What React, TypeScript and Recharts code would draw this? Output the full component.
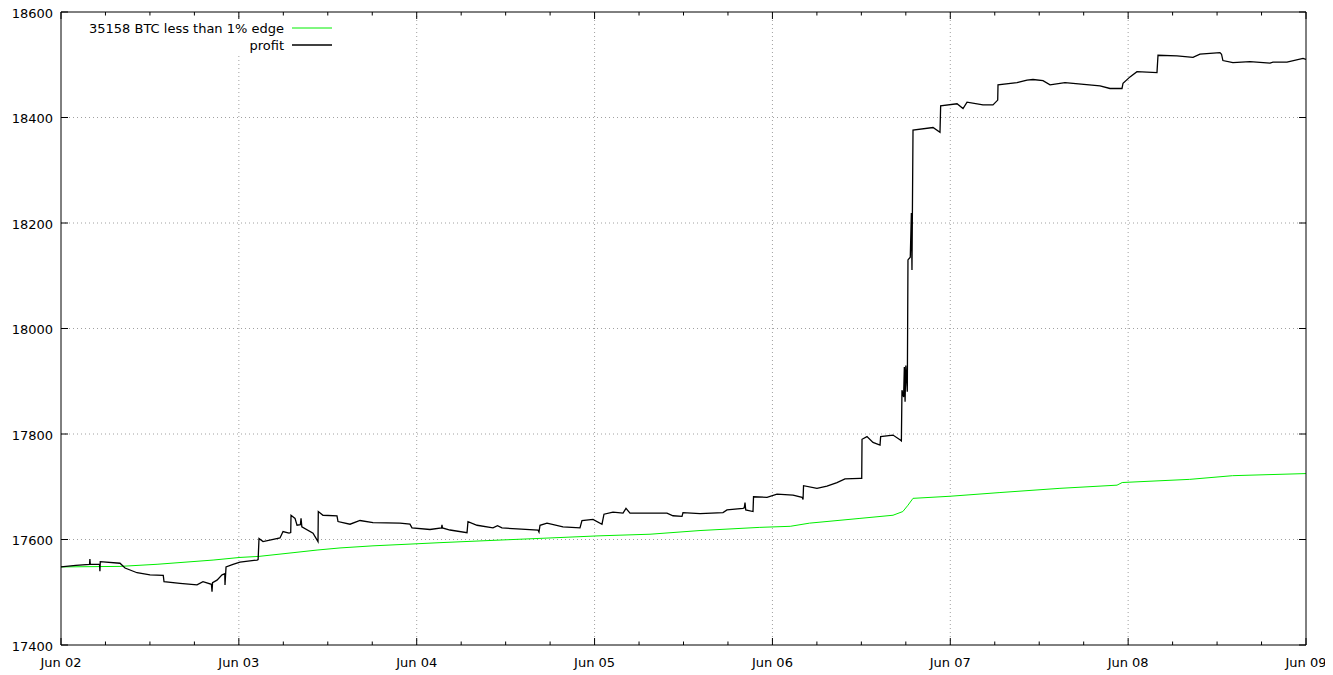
import React from "react";
import { LineChart, Line, XAxis, YAxis, ReferenceLine, Legend } from "recharts";

// hours since Jun 02 00:00
const profitHours = [
  0, 2.0, 3.85, 3.9, 3.95, 5.2, 5.25, 5.3, 7.96, 8.64, 10.26, 12.01, 13.8, 13.9, 16.06, 18.35, 19.16,
  20.3, 20.38, 20.45, 21.05, 21.73, 22.1, 22.13, 22.27, 23.21, 24.15, 26.45, 26.6, 26.72, 27.26, 29.55,
  29.96, 30.77, 31.0, 31.04, 31.58, 31.85, 32.3, 32.39, 32.5, 34.01, 34.68, 34.72, 35.35, 37.24, 37.38,
  39.0, 40.35, 42.1, 45.74, 47.09, 47.36, 49.79, 51.35, 51.41, 51.47, 52.49, 54.79, 54.92, 56.14, 58.29,
  58.9, 59.5, 61.53, 64.37, 64.5, 64.64, 65.58, 67.74, 70.03, 70.3, 71.79, 73.0, 73.27, 74.49, 75.84,
  76.24, 76.78, 79.48, 81.77, 82.58, 83.8, 83.93, 86.23, 89.33, 89.87, 92.03, 92.2, 92.3, 92.4, 93.38,
  93.45, 95.27, 96.62, 98.78, 100.0, 100.13, 100.2, 102.01, 103.36, 104.71, 105.79, 107.81, 108.05,
  108.09, 108.76, 109.57, 110.52, 110.6, 112.27, 113.21, 113.4, 113.48, 113.7, 113.8, 113.9, 114.0,
  114.2, 114.29, 114.6, 114.75, 114.83, 114.97, 117.67, 118.61, 118.7, 120.91, 121.72, 122.26, 124.41,
  125.76, 126.4, 126.44, 129.0, 130.35, 131.16, 132.51, 133.46, 135.48, 140.2, 141.55, 143.17, 143.31,
  144.25, 145.19, 147.89, 148.03, 150.59, 152.75, 153.69, 156.39, 156.6, 156.79, 158.14, 160.44, 163.14,
  163.54, 165.43, 167.6, 168,
];
const profitValues = [
  17548, 17551, 17553, 17563, 17553, 17553, 17540, 17558, 17555, 17546, 17537, 17533, 17532, 17520, 17517, 17514, 17520,
  17515, 17501, 17518, 17523, 17533, 17535, 17514, 17548, 17553, 17557, 17561, 17562, 17602, 17596, 17603,
  17615, 17612, 17613, 17646, 17640, 17627, 17628, 17640, 17624, 17612, 17596, 17653, 17646, 17645, 17634,
  17629, 17636, 17632, 17631, 17629, 17622, 17619, 17622, 17628, 17622, 17618, 17613, 17634, 17627, 17622,
  17626, 17622, 17620, 17618, 17614, 17627, 17631, 17624, 17622, 17636, 17638, 17629, 17648, 17652, 17650,
  17659, 17650, 17650, 17650, 17645, 17644, 17651, 17649, 17651, 17656, 17659, 17660, 17670, 17656, 17653,
  17681, 17680, 17686, 17684, 17680, 17676, 17702, 17697, 17701, 17708, 17715, 17716, 17716,
  17790, 17795, 17784, 17779, 17795, 17798, 17789, 17787, 17883, 17870, 17927, 17861, 17930,
  17880, 18130, 18135, 18219, 18111, 18376, 18381, 18372, 18422, 18426, 18417, 18429, 18424,
  18424, 18433, 18462, 18466, 18471, 18472, 18470, 18462, 18466, 18460, 18455, 18455, 18465,
  18477, 18487, 18485, 18518, 18517, 18514, 18520, 18523, 18520, 18508, 18504, 18506, 18503,
  18505, 18505, 18512, 18510,
];

const edgeHours = [
  0, 7.96, 12.96, 20.52, 24.15, 26.72, 31.31, 34.55, 37.65, 42.1, 46.69, 51.14, 59.37, 66.12, 72.73,
  79.48, 86.23, 94.3, 98.4, 101.0, 107.81, 112.27, 113.6, 114.29, 114.97, 120.0, 126.7, 134.8, 142.5,
  143.2, 152.3, 158.1, 168,
];
const edgeValues = [
  17548, 17549, 17553, 17561, 17566, 17568, 17575, 17580, 17584, 17588, 17591, 17594, 17599, 17603, 17607,
  17610, 17617, 17623, 17625, 17631, 17640, 17646, 17653, 17665, 17678, 17682, 17689, 17697, 17703,
  17708, 17714, 17721, 17725,
];

const dayLabels = ["Jun 02", "Jun 03", "Jun 04", "Jun 05", "Jun 06", "Jun 07", "Jun 08", "Jun 09"];
const xTicks = [0, 6, 12, 18, 24, 30, 36, 42, 48, 54, 60, 66, 72, 78, 84, 90, 96, 102, 108, 114, 120, 126, 132, 138, 144, 150, 156, 162, 168];
const dayGrid = [24, 48, 72, 96, 120, 144];
const yTicks = [17400, 17600, 17800, 18000, 18200, 18400, 18600];
const yGrid = [17600, 17800, 18000, 18200, 18400];
const seriesNames = ["35158 BTC less than 1% edge", "profit"];
const seriesColors = ["#00ee00", "#000000"];

const profitData = profitHours.map((h, i) => ({ h, v: profitValues[i] }));
const edgeData = edgeHours.map((h, i) => ({ h, v: edgeValues[i] }));

const FONT = "'DejaVu Sans', sans-serif";
const MAJOR = 7;
const MINOR = 3.5;
const GRID = "#a0a0a0";

const BottomTick = (props: any) => {
  const { x, y, payload } = props;
  const v = payload.value;
  const major = v % 24 === 0;
  return (
    <g>
      <line x1={x} x2={x} y1={y} y2={y - (major ? MAJOR : MINOR)} stroke="#000" strokeWidth={1} />
      {major && (
        <text x={x} y={y + 22} textAnchor="middle" fontFamily={FONT} fontSize={13} fill="#000">
          {dayLabels[v / 24]}
        </text>
      )}
    </g>
  );
};

const TopTick = (props: any) => {
  const { x, y, payload } = props;
  const major = payload.value % 24 === 0;
  return <line x1={x} x2={x} y1={y} y2={y + (major ? MAJOR : MINOR)} stroke="#000" strokeWidth={1} />;
};

const LeftTick = (props: any) => {
  const { x, y, payload } = props;
  return (
    <g>
      <line x1={x} x2={x + MAJOR} y1={y} y2={y} stroke="#000" strokeWidth={1} />
      <text x={x - 8} y={y + 1} dy="0.36em" textAnchor="end" fontFamily={FONT} fontSize={13} fill="#000">
        {payload.value}
      </text>
    </g>
  );
};

const RightTick = (props: any) => {
  const { x, y } = props;
  return <line x1={x} x2={x - MAJOR} y1={y} y2={y} stroke="#000" strokeWidth={1} />;
};

const KeyContent = () => (
  <svg width={252} height={34} style={{ display: "block", background: "#fff" }}>
    {seriesNames.map((n, i) => (
      <g key={n}>
        <text x={199} y={8 + i * 17} dy="0.36em" textAnchor="end" fontFamily={FONT} fontSize={13} fill="#000">
          {n}
        </text>
        <line x1={207} x2={247} y1={8 + i * 17} y2={8 + i * 17} stroke={seriesColors[i]} strokeWidth={i === 1 ? 1.3 : 1} />
      </g>
    ))}
  </svg>
);

export default function App() {
  return (
    <div style={{ width: 1333, height: 675, position: "relative", marginLeft: -8, marginTop: -8 }}>
      <LineChart width={1333} height={675} margin={{ top: 8, right: 0, bottom: 0, left: 0 }}>
        <XAxis
          xAxisId="b"
          dataKey="h"
          type="number"
          domain={[0, 168]}
          ticks={xTicks}
          orientation="bottom"
          height={30}
          tickSize={0}
          tickMargin={0}
          tickLine={false}
          tick={BottomTick}
          axisLine={{ stroke: "#000", strokeWidth: 1 }}
          interval={0}
          allowDataOverflow
        />
        <XAxis
          xAxisId="t"
          dataKey="h"
          type="number"
          domain={[0, 168]}
          ticks={xTicks}
          orientation="top"
          height={4}
          tickSize={0}
          tickMargin={0}
          tickLine={false}
          tick={TopTick}
          axisLine={{ stroke: "#000", strokeWidth: 1 }}
          interval={0}
          allowDataOverflow
        />
        <YAxis
          yAxisId="l"
          type="number"
          domain={[17400, 18600]}
          ticks={yTicks}
          orientation="left"
          width={61}
          tickSize={0}
          tickMargin={0}
          tickLine={false}
          tick={LeftTick}
          axisLine={{ stroke: "#000", strokeWidth: 1 }}
          interval={0}
          allowDataOverflow
        />
        <YAxis
          yAxisId="r"
          type="number"
          domain={[17400, 18600]}
          ticks={yTicks}
          orientation="right"
          width={27}
          tickSize={0}
          tickMargin={0}
          tickLine={false}
          tick={RightTick}
          axisLine={{ stroke: "#000", strokeWidth: 1 }}
          interval={0}
          allowDataOverflow
        />
        {dayGrid.map((d) => (
          <ReferenceLine key={"x" + d} x={d} xAxisId="b" yAxisId="l" stroke={GRID} strokeDasharray="1 3" strokeWidth={1} />
        ))}
        {yGrid.map((v) => (
          <ReferenceLine key={"y" + v} y={v} xAxisId="b" yAxisId="l" stroke={GRID} strokeDasharray="1 3" strokeWidth={1} />
        ))}
        <Line
          xAxisId="b"
          yAxisId="l"
          data={edgeData}
          dataKey="v"
          name={seriesNames[0]}
          type="linear"
          stroke={seriesColors[0]}
          strokeWidth={1}
          dot={false}
          isAnimationActive={false}
        />
        <Line
          xAxisId="b"
          yAxisId="l"
          data={profitData}
          dataKey="v"
          name={seriesNames[1]}
          type="linear"
          stroke={seriesColors[1]}
          strokeWidth={1.3}
          dot={false}
          isAnimationActive={false}
        />
        <Legend
          layout="horizontal"
          verticalAlign="middle"
          align="center"
          content={KeyContent}
          wrapperStyle={{ position: "absolute", left: 85, top: 20, width: 252, height: 34 }}
        />
      </LineChart>
    </div>
  );
}
